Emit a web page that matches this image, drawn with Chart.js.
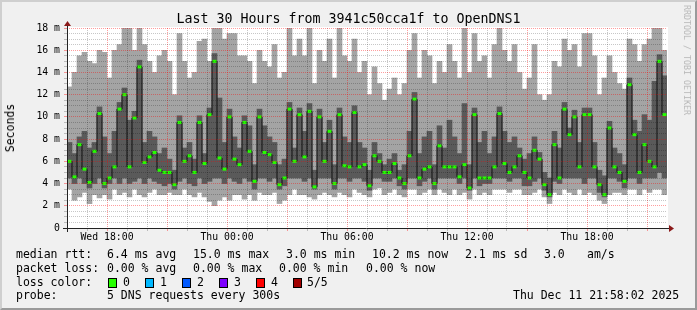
<!DOCTYPE html>
<html>
<head>
<meta charset="utf-8">
<script src="https://cdn.jsdelivr.net/npm/chart.js@4"></script>
<style>
  html, body { margin: 0; padding: 0; background: #f0f0f0; }
  #wrap { position: relative; width: 697px; height: 310px; overflow: hidden; }
  #frame { position: absolute; left: 0; top: 0; width: 697px; height: 310px; box-sizing: border-box;
           border-top: 2px solid #cfcfcf; border-left: 2px solid #cfcfcf;
           border-right: 2px solid #9a9a9a; border-bottom: 2px solid #9a9a9a; }
  canvas { position: absolute; left: 0; top: 0; }
  .t { position: absolute; font-family: "DejaVu Sans Mono", monospace; font-size: 11.5px;
       line-height: 14px; white-space: pre; color: #000; }
  .box { position: absolute; width: 7px; height: 8px; border: 1px solid #000; top: 278px; }
</style>
</head>
<body>
<div id="wrap">
  <div id="frame"></div>
  <canvas id="chart" width="697" height="310"></canvas>

  <div class="t" style="left:0;width:697px;text-align:center;top:11px;font-size:13.3px;line-height:16px">Last 30 Hours from 3941c50cca1f to OpenDNS1</div>
  <div class="t" style="left:10px;top:128px;transform:translate(-50%,-50%) rotate(-90deg)">Seconds</div>
  <div class="t" style="left:687px;top:60px;font-size:8.3px;line-height:10px;color:#b8b8b8;transform:translate(-50%,-50%) rotate(90deg)">RRDTOOL / TOBI OETIKER</div>

  <div class="t" style="left:16px;top:247px">median rtt:</div>
  <div class="t" style="left:107px;top:247px">6.4 ms avg</div>
  <div class="t" style="left:193px;top:247px">15.0 ms max</div>
  <div class="t" style="left:286px;top:247px">3.0 ms min</div>
  <div class="t" style="left:372px;top:247px">10.2 ms now</div>
  <div class="t" style="left:465px;top:247px">2.1 ms sd</div>
  <div class="t" style="left:544px;top:247px">3.0</div>
  <div class="t" style="left:587px;top:247px">am/s</div>

  <div class="t" style="left:16px;top:261px">packet loss:</div>
  <div class="t" style="left:107px;top:261px">0.00 % avg</div>
  <div class="t" style="left:193px;top:261px">0.00 % max</div>
  <div class="t" style="left:279px;top:261px">0.00 % min</div>
  <div class="t" style="left:366px;top:261px">0.00 % now</div>

  <div class="t" style="left:16px;top:275px">loss color:</div>
  <div class="box" style="left:108px;background:#26ff00"></div>
  <div class="t" style="left:123px;top:275px">0</div>
  <div class="box" style="left:145px;background:#00b8ff"></div>
  <div class="t" style="left:160px;top:275px">1</div>
  <div class="box" style="left:182px;background:#0059ff"></div>
  <div class="t" style="left:197px;top:275px">2</div>
  <div class="box" style="left:219px;background:#7e00ff"></div>
  <div class="t" style="left:234px;top:275px">3</div>
  <div class="box" style="left:256px;background:#ff0000"></div>
  <div class="t" style="left:271px;top:275px">4</div>
  <div class="box" style="left:293px;background:#a10000"></div>
  <div class="t" style="left:307px;top:275px">5/5</div>

  <div class="t" style="left:16px;top:288px">probe:</div>
  <div class="t" style="left:107px;top:288px">5 DNS requests every 300s</div>
  <div class="t" style="left:513px;top:288px">Thu Dec 11 21:58:02 2025</div>
</div>

<script>
// 15-minute columns starting Wed 16:00, values in ms
var slotHours = 0.25;

// lowest ping (bottom of light smoke)
var pingMin = [
  3.5, 2.5, 2.8, 3.2, 2.2, 3.0, 2.7, 3.0, 2.6, 3.5,
  3.0, 3.2, 2.8, 3.5, 3.0, 2.8, 3.2, 3.5, 3.0, 3.0,
  3.2, 3.0, 3.0, 3.5, 3.0, 2.8, 3.2, 2.8, 2.4, 2.0,
  2.5, 2.8, 2.5, 3.0, 3.0, 2.6, 3.0, 2.5, 3.2, 3.0,
  3.0, 3.2, 2.2, 2.5, 3.0, 3.5, 3.0, 3.0, 2.8, 2.6,
  3.0, 3.2, 3.0, 2.8, 3.2, 3.0, 2.8, 3.5, 3.2, 3.0,
  2.8, 3.5, 3.6, 3.0, 3.2, 3.5, 3.0, 2.8, 3.5, 3.5,
  3.0, 3.2, 3.5, 3.0, 3.5, 3.2, 3.0, 3.5, 3.0, 3.2,
  2.6, 3.5, 3.0, 3.2, 3.0, 3.5, 3.5, 3.5, 3.2, 3.5,
  3.5, 3.0, 3.0, 3.2, 3.5, 2.8, 2.2, 3.2, 3.0, 3.5,
  3.2, 3.0, 3.5, 3.0, 3.2, 3.0, 2.5, 2.2, 3.0, 3.2,
  3.2, 3.0, 3.5, 3.5, 3.0, 3.5, 3.2, 3.5, 3.5, 3.0
];
// 2nd ping (bottom of dark smoke)
var ping2 = [
  4.5, 4.0, 4.5, 4.0, 3.6, 4.0, 4.5, 3.6, 4.0, 4.5,
  4.0, 4.5, 4.0, 4.2, 4.5, 4.0, 4.5, 4.2, 4.0, 3.8,
  4.0, 3.5, 4.2, 4.5, 4.0, 3.8, 4.5, 4.0, 4.2, 4.5,
  4.5, 4.0, 4.5, 4.2, 4.0, 4.5, 4.2, 3.5, 4.5, 4.5,
  4.2, 4.5, 3.5, 3.8, 4.5, 4.5, 4.5, 4.2, 4.5, 3.5,
  4.5, 4.5, 4.5, 3.5, 4.5, 4.5, 4.2, 4.5, 4.5, 4.2,
  3.4, 4.5, 4.5, 4.2, 4.2, 4.5, 3.8, 3.5, 4.5, 4.5,
  3.8, 4.2, 4.5, 3.5, 4.5, 4.5, 4.5, 4.5, 4.0, 4.5,
  3.4, 4.5, 3.8, 4.0, 4.0, 4.5, 4.5, 4.5, 4.2, 4.5,
  4.5, 3.8, 3.8, 4.2, 4.5, 3.4, 2.8, 4.2, 4.0, 4.5,
  4.5, 4.5, 4.5, 4.0, 4.5, 4.5, 3.2, 2.8, 4.5, 4.5,
  4.2, 3.6, 4.5, 4.5, 4.0, 4.5, 4.5, 4.5, 5.0, 4.5
];
// median rtt
var median = [
  6.0, 4.6, 7.5, 5.3, 4.1, 6.9, 10.3, 4.0, 4.5, 5.5,
  10.7, 12.0, 5.5, 9.9, 14.5, 5.9, 6.4, 6.8, 5.2, 5.0,
  5.0, 3.9, 9.5, 6.0, 6.5, 5.0, 9.5, 5.8, 10.2, 15.0,
  6.3, 5.3, 10.0, 6.2, 5.7, 9.5, 6.9, 4.2, 10.0, 6.8,
  6.6, 5.9, 3.9, 4.5, 10.7, 6.0, 10.2, 6.4, 10.5, 3.7,
  10.0, 6.0, 8.7, 4.0, 10.2, 5.6, 5.5, 10.4, 5.5, 5.7,
  3.8, 6.5, 6.0, 5.0, 5.0, 5.8, 4.5, 4.0, 6.5, 11.6,
  4.5, 5.3, 5.5, 4.0, 7.4, 5.5, 5.5, 5.5, 4.6, 5.7,
  3.6, 10.2, 4.5, 4.5, 4.5, 5.5, 10.3, 5.8, 5.0, 5.5,
  6.5, 5.0, 4.5, 7.0, 6.2, 3.9, 3.0, 7.5, 4.5, 10.7,
  8.4, 10.0, 5.5, 10.2, 10.2, 5.5, 3.9, 3.0, 9.0, 5.5,
  5.0, 4.2, 12.9, 8.4, 5.0, 7.5, 6.0, 5.5, 15.0, 10.2
];
// 4th ping (top of dark smoke)
var ping4 = [
  7.7, 6.7, 8.2, 8.7, 7.2, 7.7, 10.9, 8.2, 6.7, 8.7,
  11.3, 12.6, 9.7, 10.5, 15.1, 7.7, 8.7, 8.2, 6.7, 7.2,
  6.2, 5.2, 10.1, 7.2, 7.7, 6.2, 10.1, 6.7, 10.8, 15.7,
  11.7, 7.7, 10.7, 8.2, 7.2, 10.1, 9.2, 5.7, 10.7, 9.2,
  8.2, 7.7, 5.7, 6.2, 11.3, 7.2, 10.8, 8.7, 11.2, 5.2,
  10.7, 7.7, 9.7, 5.7, 10.8, 8.2, 7.7, 11.0, 7.7, 7.2,
  5.2, 7.7, 6.7, 5.7, 6.2, 6.7, 5.2, 5.7, 8.7, 12.2,
  6.7, 8.2, 8.7, 5.7, 9.2, 7.2, 9.7, 8.2, 6.7, 11.2,
  5.7, 10.8, 7.7, 8.7, 6.7, 8.2, 10.9, 8.7, 7.7, 8.2,
  7.2, 6.2, 6.7, 8.2, 6.8, 5.0, 4.5, 8.7, 7.2, 11.3,
  9.0, 10.6, 7.7, 10.8, 10.8, 7.7, 5.2, 4.7, 9.6, 7.2,
  6.7, 5.7, 13.5, 9.7, 8.7, 10.2, 9.7, 13.2, 15.6, 13.7
];
// highest ping (top of light smoke)
var pingMax = [
  12.7, 14.0, 15.5, 15.8, 15.0, 14.8, 16.0, 15.8, 13.5, 16.0,
  16.5, 18.0, 18.0, 16.0, 18.0, 16.5, 15.0, 14.0, 15.5, 16.0,
  15.0, 12.0, 17.5, 15.0, 13.5, 14.0, 16.8, 17.0, 15.0, 18.0,
  18.0, 17.0, 17.5, 17.5, 15.5, 15.5, 15.0, 13.0, 16.0, 15.0,
  14.5, 16.5, 13.5, 14.0, 18.0, 15.5, 17.0, 15.5, 18.0, 13.0,
  16.0, 15.0, 17.0, 13.5, 18.0, 15.5, 15.0, 17.0, 14.0, 15.0,
  12.0, 14.5, 13.0, 11.5, 12.5, 13.5, 12.0, 13.0, 16.0, 17.5,
  13.5, 16.0, 15.5, 13.0, 15.0, 14.0, 16.5, 15.0, 13.5, 18.0,
  14.0, 17.5, 15.0, 15.5, 13.5, 16.5, 18.0, 16.0, 15.0, 16.5,
  14.0, 12.5, 13.5, 16.5, 12.0, 11.5, 12.0, 15.0, 14.5, 17.0,
  16.0, 16.5, 14.5, 17.5, 17.5, 15.5, 12.0, 13.5, 15.5, 14.0,
  13.0, 12.5, 17.0, 16.5, 15.0, 16.5, 17.0, 18.0, 18.0, 16.0
];

// axis ticks (x in hours since Wed 16:00)
var xTickHours = [2, 8, 14, 20, 26];
var xTickLabels = ['Wed 18:00', 'Thu 00:00', 'Thu 06:00', 'Thu 12:00', 'Thu 18:00'];
var yTickValues = [0, 2, 4, 6, 8, 10, 12, 14, 16, 18];
var yTickLabels = ['0', '2 m', '4 m', '6 m', '8 m', '10 m', '12 m', '14 m', '16 m', '18 m'];

var RED = 'rgba(255,0,0,0.38)';
var GREY = 'rgba(0,0,0,0.22)';
var FONT = { family: 'DejaVu Sans Mono', size: 9.8 };

function slotX(i) { return (i + 0.5) * slotHours; }

// white canvas area, then axes with arrow heads on top
var rrdFrame = {
  id: 'rrdFrame',
  beforeDraw: function (chart) {
    var a = chart.chartArea, ctx = chart.ctx;
    ctx.save();
    ctx.fillStyle = '#ffffff';
    ctx.fillRect(a.left, a.top - 1, a.right - a.left + 1, a.bottom - a.top + 1);
    ctx.restore();
  },
  afterDraw: function (chart) {
    var a = chart.chartArea, ctx = chart.ctx;
    ctx.save();
    ctx.strokeStyle = '#222';
    ctx.lineWidth = 1;
    ctx.beginPath();
    ctx.moveTo(a.left - 4, a.bottom + 0.5);
    ctx.lineTo(a.right + 3, a.bottom + 0.5);
    ctx.moveTo(a.left + 0.5, a.bottom + 4);
    ctx.lineTo(a.left + 0.5, a.top - 3);
    ctx.stroke();
    ctx.fillStyle = '#8b1a1a';
    ctx.beginPath();
    ctx.moveTo(a.right + 7, a.bottom + 0.5);
    ctx.lineTo(a.right + 2, a.bottom - 3);
    ctx.lineTo(a.right + 2, a.bottom + 4);
    ctx.closePath();
    ctx.fill();
    ctx.beginPath();
    ctx.moveTo(a.left + 0.5, a.top - 7);
    ctx.lineTo(a.left - 3, a.top - 2);
    ctx.lineTo(a.left + 4, a.top - 2);
    ctx.closePath();
    ctx.fill();
    ctx.restore();
  }
};

new Chart(document.getElementById('chart'), {
  type: 'bar',
  data: {
    datasets: [
      {
        label: 'ping 1-5',
        data: pingMax.map(function (v, i) { return { x: slotX(i), y: [pingMin[i], v] }; }),
        backgroundColor: '#a4a4a4', borderWidth: 0, barThickness: 5, grouped: false, order: 3
      },
      {
        label: 'ping 2-4',
        data: ping4.map(function (v, i) { return { x: slotX(i), y: [ping2[i], v] }; }),
        backgroundColor: '#5a5a5a', borderWidth: 0, barThickness: 5, grouped: false, order: 2
      },
      {
        type: 'line',
        label: 'median rtt',
        data: median.map(function (v, i) { return { x: slotX(i), y: v }; }),
        stepped: 'middle',
        borderColor: '#111', borderWidth: 1,
        pointStyle: 'line', pointRadius: 2, pointHoverRadius: 2,
        pointBorderColor: '#26ff00', pointBorderWidth: 3,
        order: 1
      }
    ]
  },
  options: {
    responsive: false,
    animation: false,
    devicePixelRatio: 1,
    layout: { padding: { left: 0, top: 28, right: 30, bottom: 60 } },
    plugins: { legend: { display: false }, tooltip: { enabled: false }, title: { display: false } },
    scales: {
      x: {
        type: 'linear', min: 0, max: 30, offset: false,
        afterFit: function (s) { s.height = 22; },
        grid: {
          offset: false, z: 1, tickLength: 3,
          color: function (c) {
            var v = c.tick.value;
            if (v <= 0 || v >= 30) return 'rgba(0,0,0,0)';
            return (v - 2) % 3 === 0 ? RED : GREY;
          }
        },
        border: { display: false, dash: [1, 1] },
        ticks: {
          stepSize: 1, autoSkip: false, maxRotation: 0, padding: 1, color: '#000', font: FONT,
          callback: function (v) { var i = xTickHours.indexOf(v); return i >= 0 ? xTickLabels[i] : ''; }
        }
      },
      y: {
        min: 0, max: 18,
        afterFit: function (s) { s.width = 67; },
        grid: {
          z: 1, tickLength: 3,
          color: function (c) {
            var v = c.tick.value;
            if (v === 0) return 'rgba(0,0,0,0)';
            return v % 2 === 0 ? RED : GREY;
          }
        },
        border: { display: false, dash: [1, 1] },
        ticks: {
          stepSize: 0.5, autoSkip: false, padding: 4, color: '#000', font: FONT,
          callback: function (v) { var i = yTickValues.indexOf(v); return i >= 0 ? yTickLabels[i] : ''; }
        }
      }
    }
  },
  plugins: [rrdFrame]
});
</script>
</body>
</html>
